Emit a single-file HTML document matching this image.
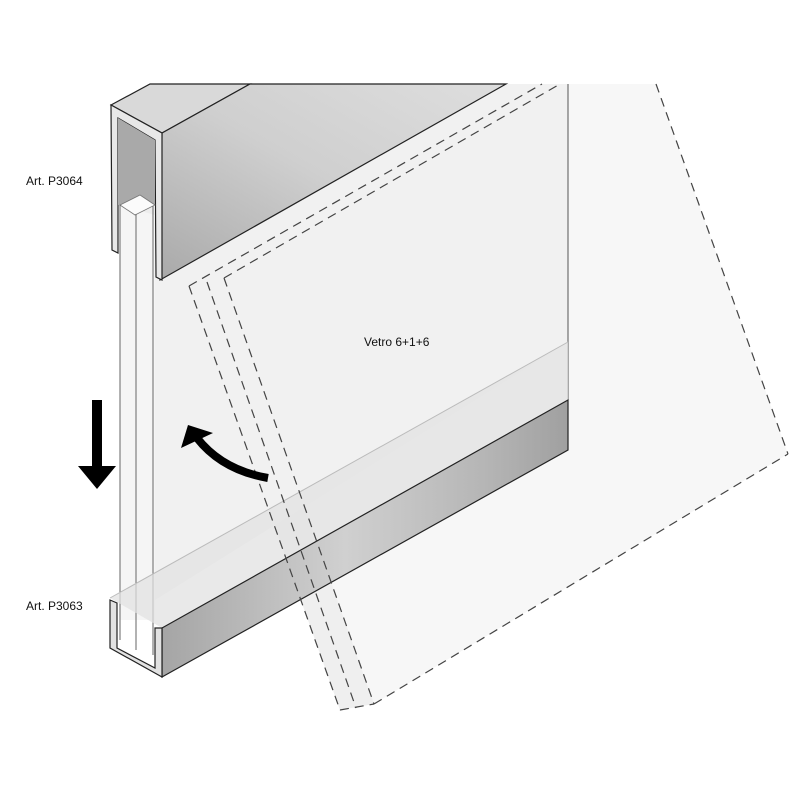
<!DOCTYPE html>
<html><head><meta charset="utf-8"><style>
html,body{margin:0;padding:0;background:#fff;}
svg{display:block;}
text{font-family:"Liberation Sans",sans-serif;font-size:12px;fill:#111;}
</style></head><body>
<svg width="800" height="800" viewBox="0 0 800 800" xmlns="http://www.w3.org/2000/svg">
<defs>
<linearGradient id="g1" x1="0" y1="1" x2="1" y2="0">
<stop offset="0" stop-color="#a9a9a9"/><stop offset="0.5" stop-color="#cfcfcf"/><stop offset="1" stop-color="#dedede"/>
</linearGradient>
<linearGradient id="g2" x1="0" y1="0" x2="1" y2="0">
<stop offset="0" stop-color="#a5a5a5"/><stop offset="0.45" stop-color="#d0d0d0"/><stop offset="0.8" stop-color="#b5b5b5"/><stop offset="1" stop-color="#a0a0a0"/>
</linearGradient>
</defs>
<!-- dashed tilted glass -->
<polygon points="189,286 224,278 560,84 656,84 788,454 374,704 340,710" fill="#f7f7f7"/>
<polygon points="189,286 224,278 374,704 340,710" fill="#ececec" opacity="0.8"/>
<!-- glass panel -->
<polygon points="155,84 568,84 568,342 155,600" fill="#f1f1f1"/>
<line x1="568" y1="84" x2="568" y2="400" stroke="#555" stroke-width="1"/>
<!-- upper bar -->
<polygon points="111,105 150,84 250,84 162,133" fill="#d9d9d9" stroke="#222" stroke-width="1.2"/>
<polygon points="162,133 250,84 506,84 160,280" fill="url(#g1)" stroke="#222" stroke-width="1.2"/>
<!-- upper end face -->
<path d="M111,105 L162,133 L162,280 L156,277 L155,140 L118,118 L118,253 L112,250 Z" fill="#e8e8e8" stroke="#222" stroke-width="1.2"/>
<polygon points="118,118 155,140 155,215 118,205" fill="#a9a9a9"/>
<!-- glass strip -->
<polygon points="120,205 140,195 155,205 155,620 120,620" fill="#f4f4f4" opacity="0.9"/>
<polygon points="120,205 140,195 155,205 135,215" fill="#fbfbfb" stroke="#777" stroke-width="0.8"/>
<line x1="120" y1="205" x2="120" y2="640" stroke="#666"/>
<line x1="136" y1="214" x2="136" y2="650" stroke="#666"/>
<line x1="153" y1="206" x2="153" y2="655" stroke="#666"/>
<!-- bottom bar -->
<polygon points="110,598 162,628 568,400 568,342" fill="#e2e2e2" opacity="0.75"/>
<line x1="110" y1="598" x2="568" y2="342" stroke="#bbb" stroke-width="1"/>
<polygon points="162,628 568,400 568,450 162,677" fill="url(#g2)" stroke="#222" stroke-width="1.2"/>
<path d="M110,600 L117,603 L117,648 L155,668 L155,628 L162,628 L162,677 L110,648 Z" fill="#e2e2e2" stroke="#222" stroke-width="1.2"/>
<!-- dashed lines -->
<g fill="none" stroke="#444" stroke-width="1.2" stroke-dasharray="9,6">
<line x1="189" y1="286" x2="340" y2="710"/>
<line x1="207" y1="282" x2="356" y2="708"/>
<line x1="224" y1="278" x2="374" y2="704"/>
<line x1="340" y1="710" x2="374" y2="704"/>
<line x1="374" y1="704" x2="788" y2="454"/>
<line x1="656" y1="84" x2="788" y2="454"/>
<line x1="189" y1="286" x2="542" y2="84"/>
<line x1="224" y1="278" x2="560" y2="84"/>
</g>
<!-- arrows -->
<rect x="92" y="400" width="10" height="70" fill="#000"/>
<polygon points="78,466 116,466 97,489" fill="#000"/>
<path d="M268,478 Q222,470 197,438" fill="none" stroke="#000" stroke-width="8"/>
<polygon points="181,448 188,425 213,433" fill="#000"/>
<!-- labels -->
<text x="26" y="185">Art. P3064</text>
<text x="26" y="610">Art. P3063</text>
<text x="364" y="346">Vetro 6+1+6</text>
</svg>
</body></html>
